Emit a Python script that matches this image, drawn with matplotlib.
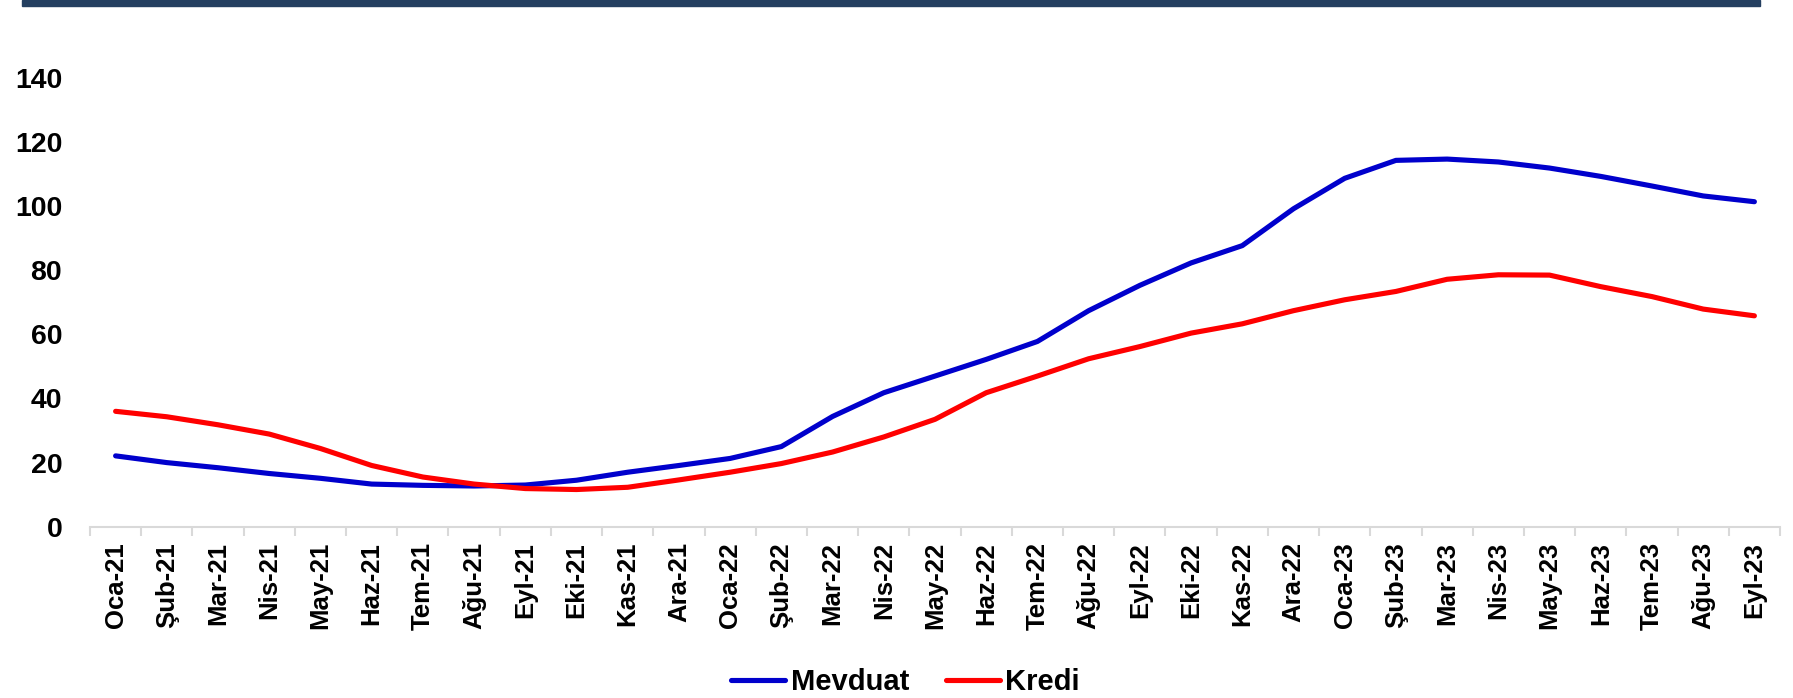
import matplotlib
matplotlib.use("Agg")
import matplotlib.pyplot as plt
from matplotlib.patches import Rectangle

months = ["Oca-21", "Şub-21", "Mar-21", "Nis-21", "May-21", "Haz-21", "Tem-21", "Ağu-21",
          "Eyl-21", "Eki-21", "Kas-21", "Ara-21",
          "Oca-22", "Şub-22", "Mar-22", "Nis-22", "May-22", "Haz-22", "Tem-22", "Ağu-22",
          "Eyl-22", "Eki-22", "Kas-22", "Ara-22",
          "Oca-23", "Şub-23", "Mar-23", "Nis-23", "May-23", "Haz-23", "Tem-23", "Ağu-23",
          "Eyl-23"]

mevduat = [22.1, 20.0, 18.4, 16.6, 15.1, 13.3, 12.9, 12.7, 13.0, 14.5, 17.0, 19.1,
           21.3, 25.0, 34.4, 41.8, 47.0, 52.2, 57.8, 67.4, 75.3, 82.3, 87.7, 99.2,
           108.7, 114.3, 114.7, 113.8, 111.9, 109.3, 106.3, 103.2, 101.4]

kredi = [36.0, 34.3, 31.8, 28.9, 24.4, 19.1, 15.5, 13.3, 11.9, 11.6, 12.3, 14.6,
         17.0, 19.7, 23.3, 28.0, 33.5, 41.8, 47.0, 52.4, 56.2, 60.4, 63.3, 67.4,
         70.8, 73.4, 77.2, 78.6, 78.5, 74.9, 71.8, 67.9, 65.8]

yticks = [0, 20, 40, 60, 80, 100, 120, 140]

FONT = "Liberation Sans"

fig = plt.figure(figsize=(17.93, 6.98), dpi=100)
ax = fig.add_axes([90 / 1793, 1 - 526.7 / 698, (1780 - 90) / 1793, (526.7 - 78) / 698])

# navy header strip
fig.patches.append(Rectangle((22 / 1793, 1 - 6 / 698), (1760 - 22) / 1793, 6 / 698,
                             transform=fig.transFigure, color="#243F60", zorder=5))

x = list(range(len(months)))
ax.plot(x, mevduat, color="#0000CC", lw=3.7, solid_capstyle="round",
        solid_joinstyle="round", label="Mevduat", zorder=3)
ax.plot(x, kredi, color="#FF0000", lw=3.7, solid_capstyle="round",
        solid_joinstyle="round", label="Kredi", zorder=3)

ax.set_xlim(-0.5, len(months) - 0.5)
ax.set_ylim(0, 140)

for s in ["top", "right", "left"]:
    ax.spines[s].set_visible(False)
ax.spines["bottom"].set_color("#D9D9D9")
ax.spines["bottom"].set_linewidth(1.5)

ax.set_yticks(yticks)
ax.set_yticklabels([str(v) for v in yticks], fontfamily=FONT, fontweight="bold", fontsize=20.5)
ax.tick_params(axis="y", length=0, pad=20)

ax.set_xticks(x)
ax.set_xticklabels(months, rotation=90, fontfamily=FONT, fontweight="bold", fontsize=18.5)
ax.set_xticks([i - 0.5 for i in range(len(months) + 1)], minor=True)
ax.tick_params(axis="x", which="major", length=0, pad=11)
ax.tick_params(axis="x", which="minor", length=6.5, width=1.5, color="#D9D9D9",
               direction="out")

fig.legend(loc="center", bbox_to_anchor=(0.505, 0.023), ncol=2, frameon=False,
           prop={"family": FONT, "weight": "bold", "size": 21},
           handlelength=1.85, handletextpad=0.2, columnspacing=1.25, borderpad=0)

fig.savefig("out.png", dpi=100)
plt.close()
